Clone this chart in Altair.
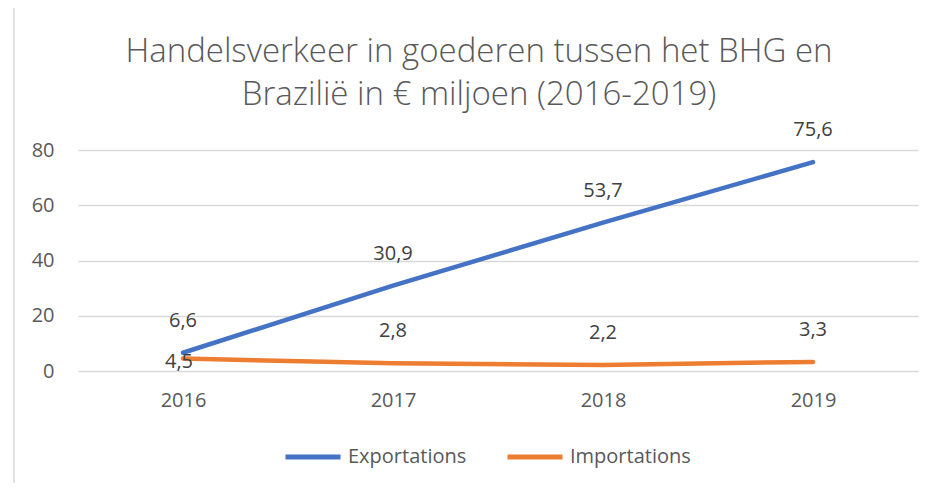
import altair as alt
import pandas as pd

years = ["2016", "2017", "2018", "2019"]
exportations = [6.6, 30.9, 53.7, 75.6]
importations = [4.5, 2.8, 2.2, 3.3]
series_names = ["Exportations", "Importations"]
series_colors = ["#4472C4", "#ED7D31"]
y_ticks = [0, 20, 40, 60, 80]
title_lines = ["Handelsverkeer in goederen tussen het BHG en", "Brazilië in € miljoen (2016-2019)"]

rows = []
for name, vals in zip(series_names, [exportations, importations]):
    for yr, v in zip(years, vals):
        rows.append({"year": yr, "series": name, "value": v})
df = pd.DataFrame(rows)

FONT = "Open Sans"
GREY = "#595959"

base = alt.Chart(df).encode(
    x=alt.X("year:N", title=None, sort=years,
            axis=alt.Axis(labelAngle=0, labelFontSize=20, labelColor=GREY, labelFont=FONT,
                          ticks=False, domain=False, grid=False, labelPadding=19)),
    y=alt.Y("value:Q", title=None, scale=alt.Scale(domain=[0, 80], nice=False),
            axis=alt.Axis(values=y_ticks, labelFontSize=20, labelColor=GREY, labelFont=FONT,
                          ticks=False, domain=False, grid=True, gridColor="#D9D9D9",
                          gridWidth=1.5, labelPadding=24)),
)

lines = base.mark_line(strokeWidth=4.5, strokeCap="round", strokeJoin="round").encode(
    color=alt.Color("series:N", title=None,
                    scale=alt.Scale(domain=series_names, range=series_colors),
                    legend=alt.Legend(orient="none", legendX=205, legendY=277,
                                      direction="horizontal", symbolType="stroke",
                                      symbolSize=3025, symbolStrokeWidth=5,
                                      labelFontSize=20, labelColor=GREY, labelFont=FONT,
                                      labelOffset=5, columnPadding=30, padding=0))
)

labeled = base.transform_calculate(
    lab="replace(format(datum.value, '.1f'), '.', ',')"
)

labels_above = labeled.transform_filter(
    "!(datum.series == 'Importations' && datum.year == '2016')"
).mark_text(dy=-32, fontSize=20, color="#404040", font=FONT, baseline="middle").encode(
    text="lab:N"
)

labels_center = labeled.transform_filter(
    "datum.series == 'Importations' && datum.year == '2016'"
).mark_text(dy=3, dx=-4, fontSize=20, color="#404040", font=FONT, baseline="middle").encode(
    text="lab:N"
)

one = pd.DataFrame({"k": [0]})

frame = alt.Chart(one).mark_rect(
    fill=None, stroke="#D9D9D9", strokeWidth=1.5
).encode(
    x=alt.value(-64), x2=alt.value(870), y=alt.value(-145), y2=alt.value(360)
)

title = alt.Chart(one).mark_text(
    fontSize=33, font=FONT, fontWeight=300, color=GREY, align="center",
    baseline="alphabetic", lineHeight=43
).encode(
    x=alt.value(401), y=alt.value(-88), text=alt.value(title_lines)
)

chart = alt.layer(frame, title, lines, labels_above, labels_center).properties(
    width=840,
    height=221,
    autosize=alt.AutoSizeParams(type="none"),
    padding={"left": 70, "top": 142, "right": 6, "bottom": 112},
).configure_view(stroke=None)

chart.save("out.html", embed_options={"renderer": "svg", "actions": False})
